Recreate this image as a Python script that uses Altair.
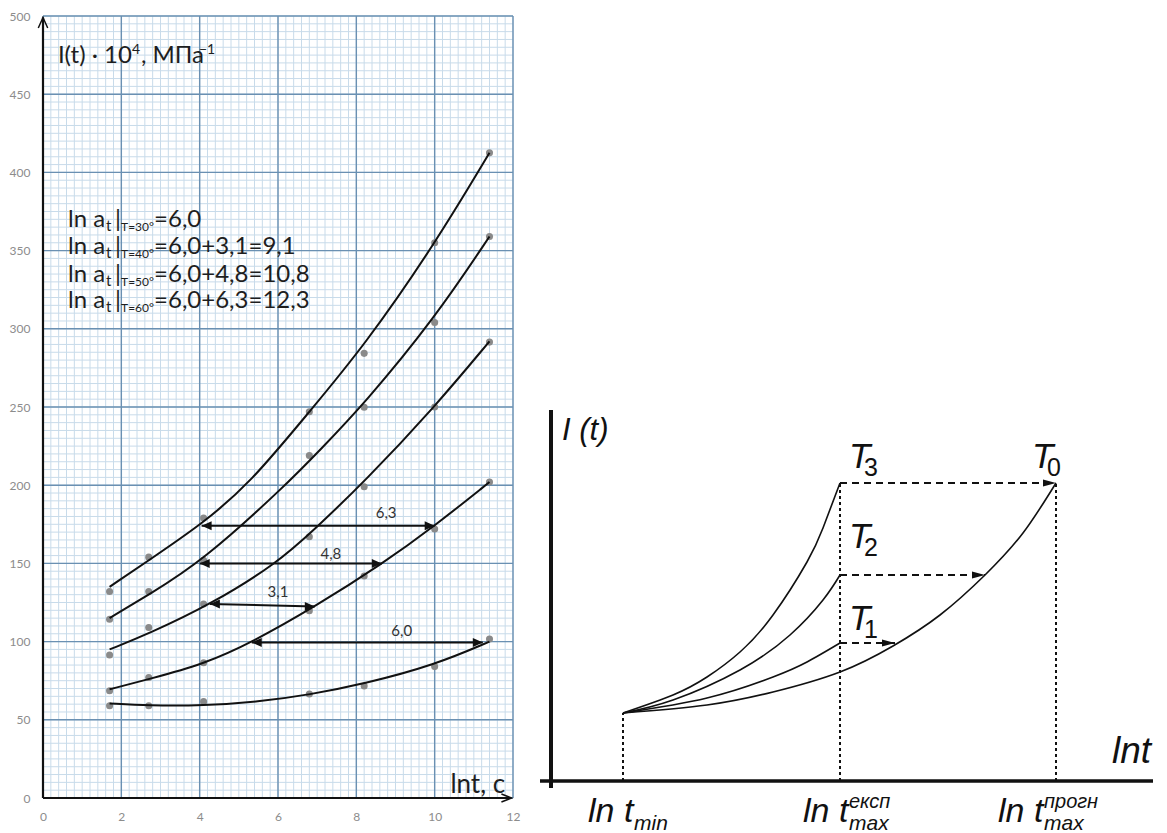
import altair as alt
import pandas as pd

# ================= LEFT CHART DATA =================
ln_t = [1.7, 2.7, 4.1, 6.8, 8.2, 10.0, 11.4]
pts_1 = [59, 59, 61.6, 66.5, 71.6, 84, 101.7]
pts_2 = [68.6, 77, 86.5, 119.8, 142, 172, 202]
pts_3 = [91.4, 109, 124, 167, 199, 250, 291.5]
pts_4 = [114.3, 132, 152, 219, 249.8, 304, 359]
pts_5 = [132, 154, 179, 247, 284.3, 355, 412.5]

curve_1_x = [1.7, 2.7, 4.1, 5.5, 6.8, 8.2, 10.0, 11.4]
curve_1_y = [60.5, 59, 59, 61.5, 66, 73, 85, 100]
curve_2_x = [1.7, 2.7, 4.1, 5.37, 6.94, 8.65, 10.0, 11.4]
curve_2_y = [69.5, 76, 85.5, 100, 122.3, 149.5, 174, 202]
curve_3_x = [1.7, 2.7, 4.3, 5.97, 6.94, 8.2, 10.0, 11.4]
curve_3_y = [95, 105, 124, 150, 172, 202, 250, 292]
curve_4_x = [1.7, 2.7, 4.05, 6.2, 7.07, 8.2, 10.0, 11.4]
curve_4_y = [115, 130, 151, 200, 222.5, 252, 306.7, 359]
curve_5_x = [1.7, 2.7, 4.05, 5.28, 6.8, 8.2, 10.0, 11.4]
curve_5_y = [135, 152, 175, 201, 247, 289, 354, 412.5]

shift_labels = ["6,3", "4,8", "3,1", "6,0"]
shift_x1 = [4.05, 4.0, 4.26, 5.33]
shift_x2 = [10.0, 8.65, 6.94, 11.23]
shift_y1 = [174, 150, 124, 99.5]
shift_y2 = [174, 150, 122.5, 99.5]
shift_label_x = [8.76, 7.35, 6.0, 9.16]
shift_label_y = [182, 156, 131.5, 107]

temp_subs = ["T=30°", "T=40°", "T=50°", "T=60°"]
temp_rest = ["=6,0", "=6,0+3,1=9,1", "=6,0+4,8=10,8", "=6,0+6,3=12,3"]
temp_line_y = [365.1, 347.8, 329.9, 313.3]

x_ticks = [0, 2, 4, 6, 8, 10, 12]
y_ticks = [0, 50, 100, 150, 200, 250, 300, 350, 400, 450, 500]
minor_x = [i / 5 for i in range(61)]
minor_y = [i * 5 for i in range(101)]

# ================= RIGHT SCHEMATIC DATA =================
sch_T3_x = [7.2, 12.2, 15.6, 18.9, 22.2, 25.6, 27.2, 28.9]
sch_T3_y = [6.8, 8.6, 10.4, 12.9, 16.6, 21.9, 25.3, 29.8]
sch_T2_x = [7.2, 12.2, 18.9, 23.9, 27.2, 28.9]
sch_T2_y = [6.8, 8.1, 11.1, 14.6, 18.1, 20.6]
sch_T1_x = [7.2, 15.6, 22.2, 25.6, 28.9]
sch_T1_y = [6.8, 8.3, 10.4, 11.9, 13.8]
sch_T0_x = [7.2, 15.6, 22.2, 28.9, 34.2, 38.9, 43.4, 47.2, 50.5]
sch_T0_y = [6.8, 7.6, 8.9, 10.9, 13.5, 16.6, 20.6, 24.8, 29.8]

sch_drop_x = [7.2, 28.9, 50.5]
sch_drop_top = [6.8, 29.8, 29.8]
sch_shift_y = [29.8, 20.6, 13.8]
sch_shift_x0 = [28.9, 28.9, 28.9]
sch_shift_x1 = [50.5, 43.4, 34.4]

T_label_x = [30.1, 30.1, 30.1, 48.4]
T_label_y = [31.3, 23.3, 15.1, 31.3]
T_label_sub = ["3", "2", "1", "0"]

bottom_x = [3.7, 25.2, 44.7]
bottom_sub = ["min", "max", "max"]
bottom_sup = ["", "експ", "прогн"]

# ================= STYLE =================
MINOR = "#c8dbea"
MAJOR = "#6a90b2"
INK = "#1e1e1e"
FL = "Lato"
FR = "Liberation Sans"

xs_l = alt.Scale(domain=[0, 12], range=[0, 470], nice=False, zero=False)
ys_l = alt.Scale(domain=[0, 500], range=[782, 0], nice=False, zero=False)
xs_r = alt.Scale(domain=[0, 60], range=[508, 1108], nice=False, zero=False)
ys_r = alt.Scale(domain=[0, 50], range=[765, 265], nice=False, zero=False)

ax_x = alt.Axis(values=x_ticks, grid=False, domain=False, ticks=False, labelPadding=13,
                labelColor="#8c8c8c", labelFont=FL, labelFontSize=12, title=None,
                offset=-35, labelFlush=False)
ax_y = alt.Axis(values=y_ticks, grid=False, domain=False, ticks=False, labelPadding=13,
                labelColor="#8c8c8c", labelFont=FL, labelFontSize=12, title=None)


def LX(f):
    return alt.X(f, type="quantitative", scale=xs_l, axis=ax_x)


def LY(f):
    return alt.Y(f, type="quantitative", scale=ys_l, axis=ax_y)


def RX(f):
    return alt.X(f, type="quantitative", scale=xs_r, axis=None)


def RY(f):
    return alt.Y(f, type="quantitative", scale=ys_r, axis=None)


# ---------- left: grid ----------
df_mv = pd.DataFrame({"x": minor_x, "y0": 0, "y1": 500})
df_mh = pd.DataFrame({"y": minor_y, "x0": 0, "x1": 12})
df_Mv = pd.DataFrame({"x": x_ticks, "y0": 0, "y1": 500})
df_Mh = pd.DataFrame({"y": y_ticks, "x0": 0, "x1": 12})

g1 = alt.Chart(df_mv).mark_rule(color=MINOR, strokeWidth=1).encode(x=LX("x"), y=LY("y0"), y2=alt.Y2("y1"))
g2 = alt.Chart(df_mh).mark_rule(color=MINOR, strokeWidth=1).encode(y=LY("y"), x=LX("x0"), x2=alt.X2("x1"))
g3 = alt.Chart(df_Mv).mark_rule(color=MAJOR, strokeWidth=1.4).encode(x=LX("x"), y=LY("y0"), y2=alt.Y2("y1"))
g4 = alt.Chart(df_Mh).mark_rule(color=MAJOR, strokeWidth=1.4).encode(y=LY("y"), x=LX("x0"), x2=alt.X2("x1"))

# ---------- left: axis lines with arrows ----------
df_ax = pd.DataFrame({"x0": [0, 0], "x1": [0, 11.96], "y0": [0, 0], "y1": [499, 0]})
a1 = alt.Chart(df_ax).mark_rule(color="#111", strokeWidth=2.2).encode(
    x=LX("x0"), x2=alt.X2("x1"), y=LY("y0"), y2=alt.Y2("y1"))
a2 = alt.Chart(pd.DataFrame({"x": [0], "y": [499]})).mark_point(
    shape="M-0.45,1 L0,0 L0.45,1", filled=False, size=440, color="#111", strokeWidth=1.5, opacity=1
).encode(x=LX("x"), y=LY("y"))
a3 = alt.Chart(pd.DataFrame({"x": [11.96], "y": [0]})).mark_point(
    shape="M-1,-0.4 L0,0 L-1,0.4", filled=False, size=400, color="#111", strokeWidth=1.5, opacity=1
).encode(x=LX("x"), y=LY("y"))

# ---------- left: points and curves ----------
pts_rows = []
for name, ys in [("1", pts_1), ("2", pts_2), ("3", pts_3), ("4", pts_4), ("5", pts_5)]:
    for xv, yv in zip(ln_t, ys):
        pts_rows.append({"x": xv, "y": yv, "s": name})
df_pts = pd.DataFrame(pts_rows)
p1 = alt.Chart(df_pts).mark_circle(color="#8a8a8a", size=50, opacity=1).encode(x=LX("x"), y=LY("y"))

cur_rows = []
for name, xs, ys in [("1", curve_1_x, curve_1_y), ("2", curve_2_x, curve_2_y),
                     ("3", curve_3_x, curve_3_y), ("4", curve_4_x, curve_4_y),
                     ("5", curve_5_x, curve_5_y)]:
    for i, (xv, yv) in enumerate(zip(xs, ys)):
        cur_rows.append({"x": xv, "y": yv, "s": name, "i": i})
df_cur = pd.DataFrame(cur_rows)
c1 = alt.Chart(df_cur).mark_line(color="#111", strokeWidth=2, interpolate="basis").encode(
    x=LX("x"), y=LY("y"), detail="s:N", order="i:Q")

# ---------- left: shift arrows ----------
df_sh = pd.DataFrame({"x1": shift_x1, "x2": shift_x2, "y1": shift_y1, "y2": shift_y2,
                      "lab": shift_labels, "lx": shift_label_x, "ly": shift_label_y})
s1 = alt.Chart(df_sh).mark_rule(color="#111", strokeWidth=2).encode(
    x=LX("x1"), x2=alt.X2("x2"), y=LY("y1"), y2=alt.Y2("y2"))
s2 = alt.Chart(df_sh).mark_point(shape="M0,0 L1,-0.45 L1,0.45 Z", filled=True, size=400,
                                 color="#111", opacity=1).encode(x=LX("x1"), y=LY("y1"))
s3 = alt.Chart(df_sh).mark_point(shape="M0,0 L-1,-0.45 L-1,0.45 Z", filled=True, size=400,
                                 color="#111", opacity=1).encode(x=LX("x2"), y=LY("y2"))
s4 = alt.Chart(df_sh).mark_text(font=FL, fontSize=15, color="#333333", baseline="middle").encode(
    x=LX("lx"), y=LY("ly"), text="lab:N")

# ---------- left: texts ----------
df_title = pd.DataFrame({"x": [0.38], "y": [469.8]})


def ttl(txt, dx, dy, size):
    return alt.Chart(df_title).mark_text(text=txt, font=FL, fontSize=size, color=INK, align="left",
                                         baseline="alphabetic", dx=dx, dy=dy).encode(x=LX("x"), y=LY("y"))


t1 = ttl("I(t) · 10", 0, 0, 24)
t2 = ttl("4", 74, -9, 14)
t3 = ttl(", МПа", 83, 0, 24)
t4 = ttl("−1", 141, -9, 14)

df_lines = pd.DataFrame({"x": 0.64, "y": temp_line_y, "sub": temp_subs, "rest": temp_rest,
                         "ln": "ln a", "t": "t", "bar": "|"})


def seg(field, dx, dy, size):
    return alt.Chart(df_lines).mark_text(font=FL, fontSize=size, color=INK, align="left",
                                         baseline="alphabetic", dx=dx, dy=dy).encode(
        x=LX("x"), y=LY("y"), text=f"{field}:N")


l1 = seg("ln", 0, 0, 24)
l2 = seg("t", 38, 4, 15)
l3 = seg("bar", 47, 0, 24)
l4 = seg("sub", 53, 4, 12)
l5 = seg("rest", 86, 0, 24)

xl = alt.Chart(pd.DataFrame({"x": [11.8], "y": [3.2]})).mark_text(
    text="lnt, с", font=FL, fontSize=26, color=INK, align="right", baseline="alphabetic"
).encode(x=LX("x"), y=LY("y"))

left = alt.layer(g1, g2, g3, g4, p1, c1, a1, a2, a3, s1, s2, s3, s4,
                 t1, t2, t3, t4, l1, l2, l3, l4, l5, xl)

# ---------- right: schematic ----------
df_rax = pd.DataFrame({"x0": [0, -1.1], "x1": [0, 60.2], "y0": [-0.7, 0], "y1": [37.1, 0],
                       "w": ["v", "h"]})
r1 = alt.Chart(df_rax[df_rax.w == "v"]).mark_rule(color="#111", strokeWidth=4).encode(
    x=RX("x0"), x2=alt.X2("x1"), y=RY("y0"), y2=alt.Y2("y1"))
r2 = alt.Chart(df_rax[df_rax.w == "h"]).mark_rule(color="#111", strokeWidth=3.5).encode(
    x=RX("x0"), x2=alt.X2("x1"), y=RY("y0"), y2=alt.Y2("y1"))

sc_rows = []
for name, xs, ys in [("T3", sch_T3_x, sch_T3_y), ("T2", sch_T2_x, sch_T2_y),
                     ("T1", sch_T1_x, sch_T1_y), ("T0", sch_T0_x, sch_T0_y)]:
    for i, (xv, yv) in enumerate(zip(xs, ys)):
        sc_rows.append({"x": xv, "y": yv, "s": name, "i": i})
df_sc = pd.DataFrame(sc_rows)
r3 = alt.Chart(df_sc).mark_line(color="#111", strokeWidth=1.6, interpolate="natural").encode(
    x=RX("x"), y=RY("y"), detail="s:N", order="i:Q")

df_drop = pd.DataFrame({"x": sch_drop_x, "y0": 0, "y1": sch_drop_top})
r4 = alt.Chart(df_drop).mark_rule(color="#111", strokeWidth=2, strokeDash=[3, 3]).encode(
    x=RX("x"), y=RY("y0"), y2=alt.Y2("y1"))

df_rsh = pd.DataFrame({"x0": sch_shift_x0, "x1": sch_shift_x1, "y": sch_shift_y})
r5 = alt.Chart(df_rsh).mark_rule(color="#111", strokeWidth=1.8, strokeDash=[7, 5]).encode(
    x=RX("x0"), x2=alt.X2("x1"), y=RY("y"))
r6 = alt.Chart(df_rsh).mark_point(shape="M0,0 L-1,-0.26 L-1,0.26 Z", filled=True, size=676,
                                  color="#111", opacity=1).encode(x=RX("x1"), y=RY("y"))

df_T = pd.DataFrame({"x": T_label_x, "y": T_label_y, "sub": T_label_sub, "T": "T"})
r7 = alt.Chart(df_T).mark_text(font=FR, fontSize=35, fontStyle="italic", color="#111",
                               align="left", baseline="alphabetic", dx=-3).encode(
    x=RX("x"), y=RY("y"), text="T:N")
r8 = alt.Chart(df_T).mark_text(font=FR, fontSize=25, color="#111", align="left",
                               baseline="alphabetic", dx=12, dy=8).encode(x=RX("x"), y=RY("y"), text="sub:N")

r9 = alt.Chart(pd.DataFrame({"x": [1.1], "y": [34.1]})).mark_text(
    text="I (t)", font=FR, fontSize=31, fontStyle="italic", color="#111", align="left",
    baseline="alphabetic").encode(x=RX("x"), y=RY("y"))
r10 = alt.Chart(pd.DataFrame({"x": [56.1], "y": [1.8]})).mark_text(
    text="lnt", font=FR, fontSize=37, fontStyle="italic", color="#111", align="left",
    baseline="alphabetic").encode(x=RX("x"), y=RY("y"))

df_bot = pd.DataFrame({"x": bottom_x, "y": -4.1, "sub": bottom_sub, "sup": bottom_sup, "ln": "ln t"})
r11 = alt.Chart(df_bot).mark_text(font=FR, fontSize=34, fontStyle="italic", color="#111",
                                  align="left", baseline="alphabetic").encode(x=RX("x"), y=RY("y"), text="ln:N")
r12 = alt.Chart(df_bot).mark_text(font=FR, fontSize=21, fontStyle="italic", color="#111",
                                  align="left", baseline="alphabetic", dx=46, dy=8).encode(
    x=RX("x"), y=RY("y"), text="sub:N")
r13 = alt.Chart(df_bot).mark_text(font=FR, fontSize=20, fontStyle="italic", color="#111",
                                  align="left", baseline="alphabetic", dx=46, dy=-14).encode(
    x=RX("x"), y=RY("y"), text="sup:N")

right = alt.layer(r3, r4, r5, r6, r1, r2, r7, r8, r9, r10, r11, r12, r13)

chart = alt.layer(left, right).resolve_scale(x="independent", y="independent").properties(
    width=1116, height=817,
    autosize=alt.AutoSizeParams(type="none"),
    padding={"left": 35, "top": 8, "right": 0, "bottom": 0},
).configure_view(stroke=None)

chart.save("out.html", embed_options={"renderer": "svg", "actions": False})
